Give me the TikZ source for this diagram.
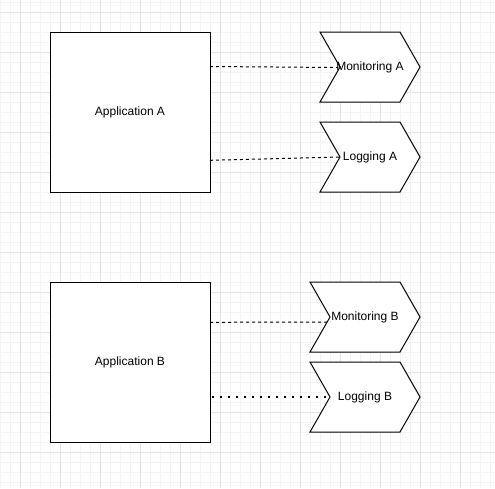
\documentclass[tikz,border=0pt]{standalone}
\usepackage{fontspec}
\setmainfont{Liberation Sans}
\definecolor{minorgrid}{HTML}{F3F3F3}
\definecolor{majorgrid}{HTML}{E2E2E2}
\tikzset{
  appbox/.style={draw=black, line width=1pt, fill=white, minimum width=160pt, minimum height=160pt, inner sep=0pt, font=\fontsize{12pt}{14pt}\selectfont},
  lbl/.style={font=\fontsize{12pt}{14pt}\selectfont, inner sep=0pt},
  chev/.style={draw=black, line width=1pt, fill=white, line join=miter},
  dashlink/.style={line width=1pt, dash pattern=on 3pt off 3pt},
  dotlink/.style={line width=2pt, dash pattern=on 2pt off 6pt}
}
\begin{document}
\begin{tikzpicture}[x=1pt,y=-1pt]
\useasboundingbox (0,0) rectangle (495,488);
\fill[white] (0,0) rectangle (495,488);
% grid
\foreach \i in {0,10,...,490} \draw[minorgrid, line width=1pt] (\i,0) -- (\i,488);
\foreach \j in {2,12,...,482} \draw[minorgrid, line width=1pt] (0,\j) -- (495,\j);
\foreach \i in {20,60,...,460} \draw[majorgrid, line width=1pt] (\i,0) -- (\i,488);
\foreach \j in {12,52,...,452} \draw[majorgrid, line width=1pt] (0,\j) -- (495,\j);

% application boxes
\node[appbox] (appA) at (130,112) {Application A};
\node[appbox] (appB) at (130,362) {Application B};

% step shapes
\draw[chev] (320,32) -- (400,32) -- (420,67) -- (400,102) -- (320,102) -- (340,67) -- cycle;
\coordinate (monAin) at (340,67);
\node[lbl] (monA) at (370,67) {Monitoring A};

\draw[chev] (320,122) -- (400,122) -- (420,157) -- (400,192) -- (320,192) -- (340,157) -- cycle;
\coordinate (logAin) at (340,157);
\node[lbl] (logA) at (370,157) {Logging A};

\draw[chev] (310,282) -- (400,282) -- (420,317) -- (400,352) -- (310,352) -- (330,317) -- cycle;
\coordinate (monBin) at (330,322);
\node[lbl] (monB) at (365,317) {Monitoring B};

\draw[chev] (310,362) -- (400,362) -- (420,397) -- (400,432) -- (310,432) -- (330,397) -- cycle;
\coordinate (logBin) at (330,397);
\node[lbl] (logB) at (365,397) {Logging B};

% connectors
\coordinate (aA1) at (210,66.5);
\coordinate (aA2) at (210,160.3);
\coordinate (aB1) at (210,322.3);
\coordinate (aB2) at (212,397);
\draw[dashlink] (aA1) -- (338,67.5);
\draw[dashlink] (aA2) -- (logAin);
\draw[dashlink] (aB1) -- (monBin);
\draw[dotlink] (aB2) -- (logBin);
\end{tikzpicture}
\end{document}
